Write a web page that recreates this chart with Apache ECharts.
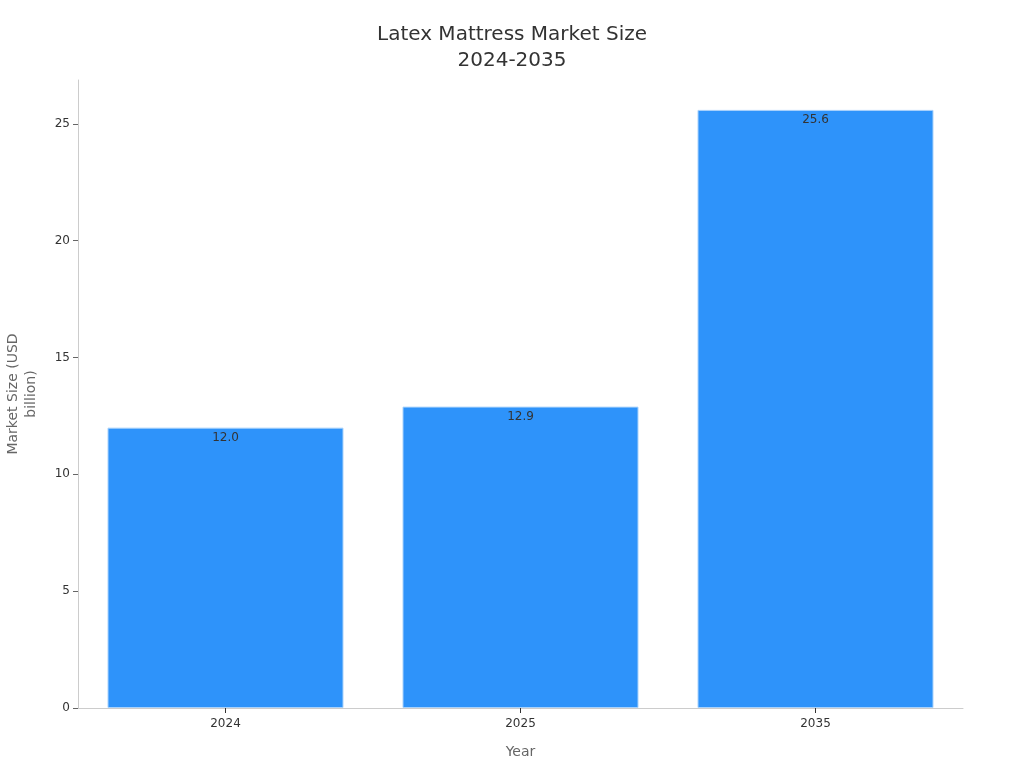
<!DOCTYPE html>
<html>
<head>
<meta charset="utf-8">
<script src="https://cdn.jsdelivr.net/npm/echarts@6/dist/echarts.min.js"></script>
<style>html,body{margin:0;padding:0;background:#fff;}#c{width:1024px;height:768px;}</style>
</head>
<body>
<div id="c"></div>
<script>
var categories = ['2024', '2025', '2035'];
var marketSize = [12.0, 12.9, 25.6];

var chart = echarts.init(document.getElementById('c'), null, {renderer: 'canvas'});
chart.setOption({
  backgroundColor: '#fff',
  animation: false,
  textStyle: {fontFamily: 'DejaVu Sans'},
  title: {
    text: 'Latex Mattress Market Size\n2024-2035',
    left: 'center',
    top: 17,
    textStyle: {fontSize: 20, fontWeight: 'normal', color: '#333', lineHeight: 26, fontFamily: 'DejaVu Sans'}
  },
  grid: {left: 78, right: 61, top: 80, bottom: 60, containLabel: false, outerBoundsMode: 'none'},
  xAxis: {
    type: 'category',
    data: categories,
    name: 'Year',
    nameLocation: 'middle',
    nameGap: 37,
    nameTextStyle: {fontSize: 14, color: '#666'},
    axisLine: {lineStyle: {color: '#ccc'}},
    axisTick: {show: true, alignWithLabel: true, lineStyle: {color: '#333'}, length: 5},
    axisLabel: {fontSize: 12, color: '#333', margin: 10}
  },
  yAxis: {
    type: 'value',
    min: 0,
    max: 26.88,
    interval: 5,
    name: 'Market Size (USD\nbillion)',
    nameLocation: 'middle',
    nameGap: 38,
    nameTextStyle: {fontSize: 14, color: '#666', lineHeight: 18},
    axisLine: {show: true, lineStyle: {color: '#ccc'}},
    axisTick: {show: true, length: 5, lineStyle: {color: '#666'}},
    axisLabel: {fontSize: 12, color: '#333', margin: 8, showMaxLabel: false},
    splitLine: {show: false}
  },
  series: [{
    type: 'bar',
    data: marketSize,
    barWidth: '80%',
    itemStyle: {color: '#2E93FA', borderColor: '#a9d2fb', borderWidth: 1},
    label: {
      show: true,
      position: 'insideTop',
      distance: 4,
      color: '#333',
      fontSize: 12,
      formatter: function (p) { return p.value.toFixed(1); }
    }
  }]
});
</script>
</body>
</html>
